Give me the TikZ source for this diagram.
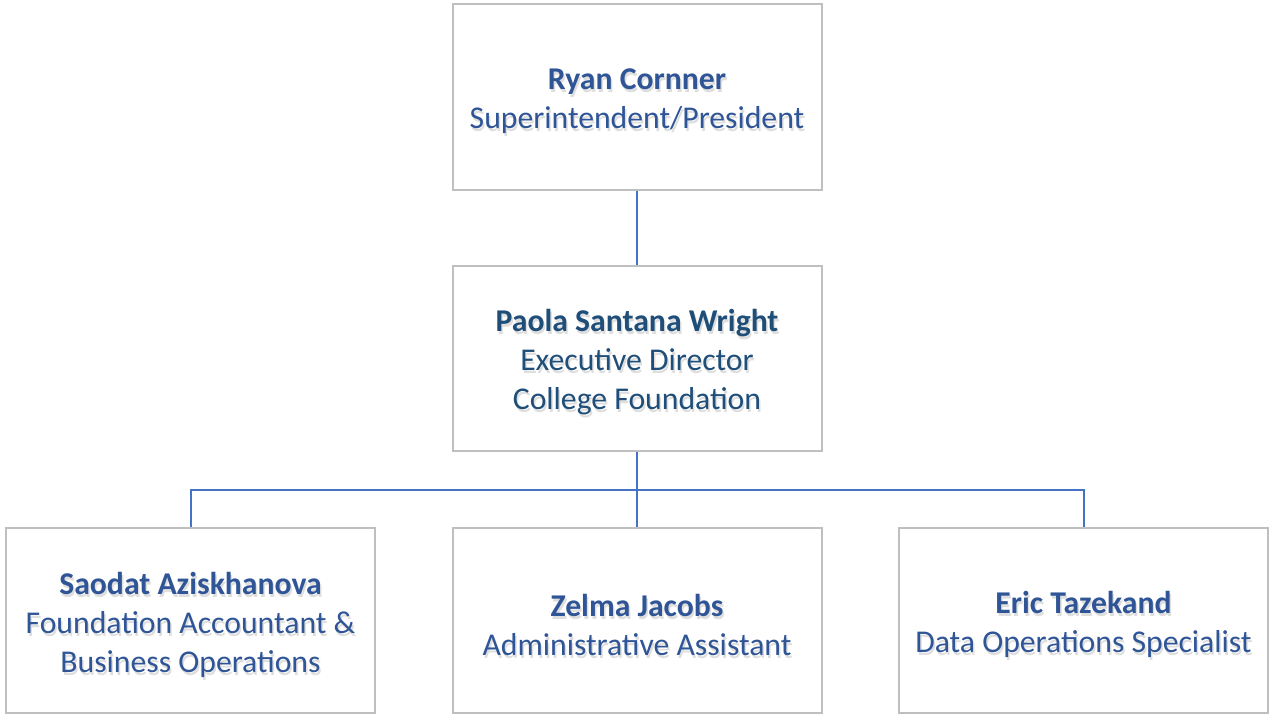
\documentclass[tikz,border=0pt]{standalone}
\usepackage{fontspec}
\setmainfont{Carlito}
\definecolor{txtblue}{HTML}{2F5597}
\definecolor{txtdark}{HTML}{1F4E79}
\definecolor{linkblue}{HTML}{4472C4}
\definecolor{boxgrey}{HTML}{BFBFBF}
\tikzset{
  person/.style={draw=boxgrey, line width=2pt, fill=white, minimum width=369pt, minimum height=185pt, inner sep=0pt},
  label/.style={align=center, font=\fontsize{31.7}{39}\selectfont, inner sep=0pt},
  shadowtext/.style={label, text=black, opacity=0.13},
  link/.style={draw=linkblue, line width=2pt}
}
\newcommand{\orgbox}[4]{%
  \node[person] (#1) at (#2) {};
  \node[shadowtext] (#1s) at ([xshift=1.5pt,yshift=-7pt]#1.center) {#4};
  \node[label, text=#3] (#1t) at ([yshift=-4pt]#1.center) {#4};
}
\begin{document}
\begin{tikzpicture}[x=1pt,y=-1pt]
\useasboundingbox[fill=white] (0,0) rectangle (1270,717);
\coordinate (bus) at (0,490);
\orgbox{top}{637,97}{txtblue}{\textbf{Ryan Cornner}\\Superintendent/President}
\orgbox{mid}{637,358.5}{txtdark}{\textbf{Paola Santana Wright}\\Executive Director\\College Foundation}
\orgbox{bl}{190.5,620.5}{txtblue}{\textbf{Saodat Aziskhanova}\\Foundation Accountant \&\\Business Operations}
\orgbox{bm}{637,620.5}{txtblue}{\textbf{Zelma Jacobs}\\Administrative Assistant}
\orgbox{br}{1083.5,620.5}{txtblue}{\textbf{Eric Tazekand}\\Data Operations Specialist}
\draw[link] (top.south) -- (mid.north);
\draw[link] (mid.south) -- (bm.north);
\draw[link] (bl.north) -- (bl.north |- bus) -- (br.north |- bus) -- (br.north);
\end{tikzpicture}
\end{document}
